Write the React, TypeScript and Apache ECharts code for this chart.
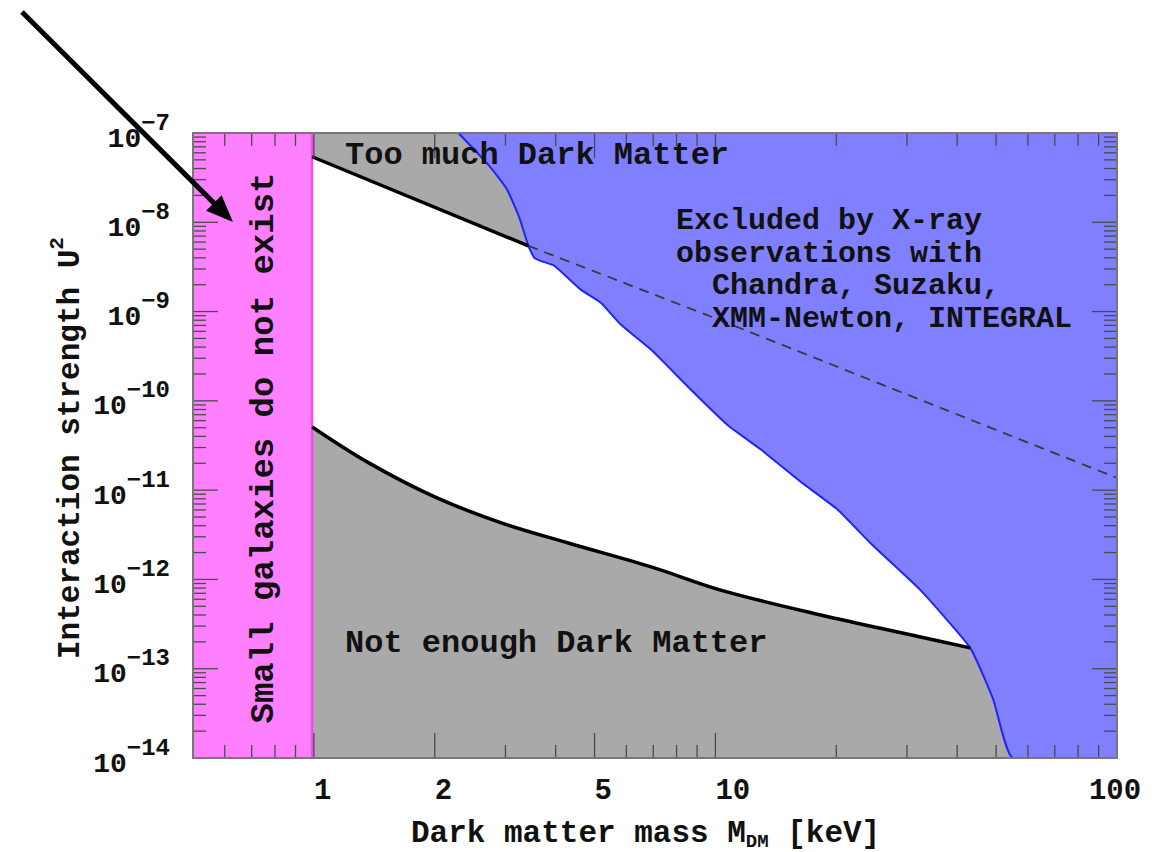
import React, { useEffect, useRef } from "react";
import * as echarts from "echarts";

// ---- axis ranges ----
const X_MIN = 0.5;
const X_MAX = 100;
const Y_MIN = 1e-14;
const Y_MAX = 1e-7;

// ---- data (keV, U^2) ----
const galaxyLimit = 0.99; // lower mass limit from small galaxies

// boundary of "too much dark matter" (solid part)
const upperX = [0.99, 3.42];
const upperY = [5.42e-8, 5.45e-9];

// continuation of the same boundary (dashed, inside X-ray excluded area)
const dashX = [3.42, 10, 100];
const dashY = [5.45e-9, 8.4e-10, 1.37e-11];

// boundary of "not enough dark matter"
const lowerX = [0.99, 1.37, 2.0, 2.93, 4.3, 6.92, 10.3, 18.3, 32.4, 43.1];
const lowerY = [5.1e-11, 2.02e-11, 8.4e-12, 4.3e-12, 2.56e-12, 1.38e-12, 7.6e-13, 4.0e-13, 2.27e-13, 1.71e-13];

// X-ray exclusion boundary
const xrayX = [2.29, 2.72, 3.02, 3.25, 3.42, 3.54, 3.73, 3.97, 4.63, 5.19, 5.82, 6.92, 8.69, 10.7, 13.0, 16.3, 20.2, 24.3, 32.4, 43.1, 49.2, 55.2];
const xrayY = [1e-7, 4.4e-8, 2.38e-8, 1.12e-8, 5.45e-9, 4.0e-9, 3.6e-9, 3.26e-9, 1.75e-9, 1.25e-9, 7.1e-10, 3.73e-10, 1.33e-10, 5.4e-11, 2.83e-11, 1.24e-11, 6.0e-12, 2.56e-12, 7.6e-13, 1.71e-13, 4.5e-14, 1e-14];

// ---- ticks ----
const xTickValues = [1, 2, 5, 10, 100];
const xTickLabels = ["1", "2", "5", "10", "100"];
const yTickExponents = [-7, -8, -9, -10, -11, -12, -13, -14];

// ---- styling ----
const MONO = '"Liberation Mono", "DejaVu Sans Mono", monospace';
const PINK = "#ff80ff";
const GRAY = "#a9a9a9";
const BLUE = "#8080ff";

const zip = (xs: number[], ys: number[]) => xs.map((x, i) => [x, ys[i]]);

const xrayPts = zip(xrayX, xrayY);
const upperPts = zip(upperX, upperY);
const lowerPts = zip(lowerX, lowerY);
const dashPts = zip(dashX, dashY);
const lowerEnd = lowerPts[lowerPts.length - 1];
const lowerPrev = lowerPts[lowerPts.length - 2];

const pinkPoly = [
  [X_MIN, Y_MIN],
  [galaxyLimit, Y_MIN],
  [galaxyLimit, Y_MAX],
  [X_MIN, Y_MAX],
];
// gray strip under the end of the lower bound (the X-ray area is drawn on top)
const lowerTailPoly = [
  [lowerPrev[0], Y_MIN],
  [lowerPrev[0], lowerEnd[1]],
  [X_MAX, lowerEnd[1]],
  [X_MAX, Y_MIN],
];

function polySeries(name: string, pts: number[][], fill: string, z = 1) {
  return {
    type: "custom",
    name,
    coordinateSystem: "cartesian2d",
    silent: true,
    clip: true,
    z,
    data: [[1, 1e-10]],
    renderItem: (_p: any, api: any) => ({
      type: "polygon",
      shape: { points: pts.map((p) => api.coord(p)) },
      style: { fill, stroke: null },
    }),
  };
}

function lineSeries(name: string, pts: number[][], color: string, width: number, type: any = "solid", z = 3, extra: any = {}) {
  return {
    type: "line",
    name,
    data: pts,
    symbol: "none",
    silent: true,
    z,
    lineStyle: { color, width, type },
    ...extra,
  };
}

function minorValues(lo: number, hi: number, majors: number[]) {
  const out: number[] = [];
  for (let d = Math.floor(Math.log10(lo)); d <= Math.ceil(Math.log10(hi)); d++) {
    for (let k = 2; k <= 9; k++) {
      const v = k * Math.pow(10, d);
      if (v > lo * 1.0001 && v < hi * 0.9999 && !majors.some((m) => Math.abs(m - v) / v < 1e-6)) out.push(v);
    }
  }
  return out;
}

const decorSeries = {
  type: "custom",
  name: "axes",
  coordinateSystem: "cartesian2d",
  silent: true,
  clip: false,
  z: 10,
  data: [[1, 1e-10]],
  renderItem: (_p: any, api: any) => {
    const [xl, yb] = api.coord([X_MIN, Y_MIN]);
    const [xr, yt] = api.coord([X_MAX, Y_MAX]);
    const children: any[] = [];
    const tick = (a: number, b: number, c: number, d: number) =>
      children.push({
        type: "line",
        shape: { x1: a, y1: b, x2: c, y2: d },
        style: { stroke: "#4a4a4a", lineWidth: 1.3 },
      });
    const MAJ = 25;
    const MIN = 13;
    xTickValues.forEach((v) => {
      const px = api.coord([v, Y_MIN])[0];
      tick(px, yb, px, yb - MAJ);
      tick(px, yt, px, yt + MAJ);
    });
    minorValues(X_MIN, X_MAX, xTickValues).forEach((v) => {
      const px = api.coord([v, Y_MIN])[0];
      tick(px, yb, px, yb - MIN);
      tick(px, yt, px, yt + MIN);
    });
    const yMajors = yTickExponents.map((e) => Math.pow(10, e));
    yMajors.forEach((v) => {
      const py = api.coord([X_MIN, v])[1];
      tick(xl, py, xl + MAJ, py);
      tick(xr, py, xr - MAJ, py);
    });
    minorValues(Y_MIN, Y_MAX, yMajors).forEach((v) => {
      const py = api.coord([X_MIN, v])[1];
      tick(xl, py, xl + MIN, py);
      tick(xr, py, xr - MIN, py);
    });
    children.push({
      type: "rect",
      shape: { x: xl, y: yt, width: xr - xl, height: yb - yt },
      style: { fill: "none", stroke: "#777", lineWidth: 2 },
    });
    xTickValues.forEach((v, i) => {
      const px = api.coord([v, Y_MIN])[0];
      const last = i === xTickValues.length - 1;
      children.push({
        type: "text",
        style: {
          text: xTickLabels[i],
          x: last ? px - 2 : px,
          y: yb + 33,
          fill: "#111",
          font: `bold 29px ${MONO}`,
          textAlign: last ? "center" : "left",
          textVerticalAlign: "middle",
        },
      });
    });
    const R = 170;
    const SUP = 24;
    yTickExponents.forEach((e) => {
      const py = api.coord([X_MIN, Math.pow(10, e)])[1];
      const sup = "\u2212" + String(-e);
      const supW = sup.length * 0.6 * SUP;
      children.push({
        type: "text",
        style: {
          text: "10",
          x: R - supW,
          y: py + 6,
          fill: "#111",
          font: `bold 28px ${MONO}`,
          textAlign: "right",
          textVerticalAlign: "middle",
        },
      });
      children.push({
        type: "text",
        style: {
          text: sup,
          x: R - supW,
          y: py - 10,
          fill: "#111",
          font: `bold ${SUP}px ${MONO}`,
          textAlign: "left",
          textVerticalAlign: "middle",
        },
      });
    });
    return { type: "group", children };
  },
};

function txt(text: string, x: number, y: number, size = 32, align = "left") {
  return {
    type: "text",
    z: 20,
    style: {
      text,
      x,
      y,
      fill: "#111",
      font: `bold ${size}px ${MONO}`,
      textAlign: align,
      textVerticalAlign: "middle",
    },
  };
}

export default function App() {
  const ref = useRef<HTMLDivElement>(null);
  useEffect(() => {
    if (!ref.current) return;
    const chart = echarts.init(ref.current, null, { renderer: "svg" });
    const tip = [233, 222];
    const start = [22, 12];
    const dx = tip[0] - start[0];
    const dy = tip[1] - start[1];
    const n = Math.hypot(dx, dy);
    const ux = dx / n;
    const uy = dy / n;
    const headL = 27;
    const headW = 11;
    const bx = tip[0] - ux * headL;
    const by = tip[1] - uy * headL;
    const noLine = { width: 0, opacity: 0 };

    chart.setOption({
      animation: false,
      backgroundColor: "#fff",
      grid: { left: 193, right: 45, top: 133, bottom: 94, show: false },
      xAxis: {
        type: "log",
        logBase: 10,
        min: X_MIN,
        max: X_MAX,
        axisLine: { show: false },
        axisTick: { show: false },
        axisLabel: { show: false },
        splitLine: { show: false },
      },
      yAxis: {
        type: "log",
        logBase: 10,
        min: Y_MIN,
        max: Y_MAX,
        axisLine: { show: false },
        axisTick: { show: false },
        axisLabel: { show: false },
        splitLine: { show: false },
      },
      series: [
        polySeries("Small galaxies do not exist", pinkPoly, PINK),
        lineSeries("Too much Dark Matter", upperPts, "#000", 0, "solid", 1, {
          lineStyle: noLine,
          areaStyle: { color: GRAY, opacity: 1, origin: "end" },
        }),
        lineSeries("Not enough Dark Matter", lowerPts, "#000", 0, "solid", 1, {
          lineStyle: noLine,
          smooth: 0.35,
          areaStyle: { color: GRAY, opacity: 1, origin: "start" },
        }),
        polySeries("Not enough Dark Matter (tail)", lowerTailPoly, GRAY, 1),
        lineSeries("Excluded by X-ray", [...xrayPts, [X_MAX, Y_MIN]], "#2222ff", 2, "solid", 2, {
          smooth: 0.15,
          areaStyle: { color: BLUE, opacity: 1, origin: "end" },
        }),
        lineSeries("galaxy limit", [[galaxyLimit, Y_MIN], [galaxyLimit, Y_MAX]], "#ff3cff", 2),
        lineSeries("upper bound", upperPts, "#000", 3.5, "solid", 4),
        lineSeries("upper bound (excluded)", dashPts, "#383838", 1.8, [10, 7]),
        lineSeries("lower bound", lowerPts, "#000", 3.5, "solid", 4, { smooth: 0.35 }),
        decorSeries,
      ],
      graphic: [
        txt("Too much Dark Matter", 345, 155),
        txt("Not enough Dark Matter", 345, 643),
        txt("Excluded by X-ray", 676, 221, 30),
        txt("observations with", 676, 253.5, 30),
        txt("Chandra, Suzaku,", 712, 286, 30),
        txt("XMM-Newton, INTEGRAL", 712, 318.5, 30),
        {
          type: "text",
          z: 20,
          x: 264,
          y: 448,
          rotation: Math.PI / 2,
          style: {
            text: "Small galaxies do not exist",
            x: 0,
            y: 0,
            fill: "#111",
            font: `bold 34px ${MONO}`,
            textAlign: "center",
            textVerticalAlign: "middle",
          },
        },
        {
          type: "group",
          x: 70,
          y: 447,
          rotation: Math.PI / 2,
          children: [
            {
              type: "text",
              style: {
                text: "Interaction strength U",
                x: -212,
                y: 0,
                fill: "#111",
                font: `bold 31px ${MONO}`,
                textAlign: "left",
                textVerticalAlign: "middle",
              },
            },
            {
              type: "text",
              style: {
                text: "2",
                x: -212 + 22 * 0.6 * 31,
                y: -13,
                fill: "#111",
                font: `bold 21px ${MONO}`,
                textAlign: "left",
                textVerticalAlign: "middle",
              },
            },
          ],
        },
        txt("Dark matter mass M", 411, 833, 31),
        {
          type: "text",
          style: {
            text: "DM",
            x: 411 + 18 * 0.6 * 31,
            y: 842,
            fill: "#111",
            font: `bold 19px ${MONO}`,
            textAlign: "left",
            textVerticalAlign: "middle",
          },
        },
        txt("[keV]", 411 + 18 * 0.6 * 31 + 2 * 0.6 * 19 + 0.6 * 31, 833, 31),
        {
          type: "line",
          z: 30,
          shape: { x1: start[0], y1: start[1], x2: bx + ux * 2, y2: by + uy * 2 },
          style: { stroke: "#000", lineWidth: 5 },
        },
        {
          type: "polygon",
          z: 30,
          shape: {
            points: [
              tip,
              [bx - uy * headW, by + ux * headW],
              [bx + uy * headW, by - ux * headW],
            ],
          },
          style: { fill: "#000" },
        },
      ],
    });
    return () => chart.dispose();
  }, []);
  return (
    <div
      ref={ref}
      style={{ position: "absolute", left: 0, top: 0, width: 1162, height: 852 }}
    />
  );
}
